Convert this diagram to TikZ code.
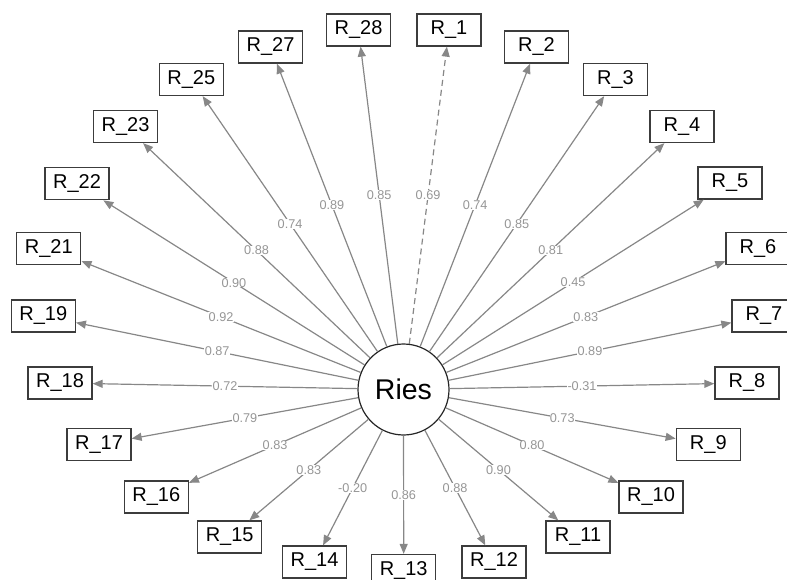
\documentclass[tikz,border=0pt]{standalone}
\usepackage{fontspec}
\setmainfont{Liberation Sans}
\usetikzlibrary{arrows.meta}
\definecolor{edgegray}{RGB}{135,135,135}
\definecolor{lblgray}{RGB}{150,150,150}
\definecolor{boxgray}{RGB}{60,60,60}
\begin{document}
\begin{tikzpicture}[x=1pt,y=-1pt,
  manifest/.style={draw=boxgray,line width=1.3pt,fill=white,minimum width=64pt,minimum height=32pt,inner sep=0pt,font=\fontsize{20}{24}\selectfont},
  latent/.style={circle,draw=black!85,line width=1.2pt,fill=white,minimum size=91pt,inner sep=0pt,font=\fontsize{28.5}{32}\selectfont},
  load/.style={draw=edgegray,line width=1.2pt,-{Triangle[length=10pt,width=8pt]}},
  lbl/.style={fill=white,inner sep=0.3pt,text=lblgray,font=\fontsize{12.7}{14}\selectfont}
]
\useasboundingbox (0,0) rectangle (787,580);
\node[latent] (ries) at (403.5,389.5) {Ries};
\node[manifest] (r1) at (449,30) {R\_1};
\node[manifest] (r2) at (536.5,47) {R\_2};
\node[manifest] (r3) at (615.5,79.5) {R\_3};
\node[manifest] (r4) at (682,126.5) {R\_4};
\node[manifest] (r5) at (730,183) {R\_5};
\node[manifest] (r6) at (758,248.3) {R\_6};
\node[manifest] (r7) at (764,316) {R\_7};
\node[manifest] (r8) at (747,383) {R\_8};
\node[manifest] (r9) at (708.3,444.5) {R\_9};
\node[manifest] (r10) at (651,497) {R\_10};
\node[manifest] (r11) at (578,537) {R\_11};
\node[manifest] (r12) at (494,562) {R\_12};
\node[manifest] (r13) at (403.7,570.5) {R\_13};
\node[manifest] (r14) at (314.5,562) {R\_14};
\node[manifest] (r15) at (229.7,537) {R\_15};
\node[manifest] (r16) at (156.3,497) {R\_16};
\node[manifest] (r17) at (99,444.5) {R\_17};
\node[manifest] (r18) at (60,383) {R\_18};
\node[manifest] (r19) at (43.3,316) {R\_19};
\node[manifest] (r21) at (48.8,248.3) {R\_21};
\node[manifest] (r22) at (77,183.7) {R\_22};
\node[manifest] (r23) at (125.5,126.5) {R\_23};
\node[manifest] (r25) at (191.3,79.5) {R\_25};
\node[manifest] (r27) at (270.5,47) {R\_27};
\node[manifest] (r28) at (358.5,30) {R\_28};
\draw[load,dash pattern=on 6pt off 4pt] (ries) -- node[lbl]{0.69} (r1);
\draw[load] (ries) -- node[lbl]{0.74} (r2);
\draw[load] (ries) -- node[lbl]{0.85} (r3);
\draw[load] (ries) -- node[lbl]{0.81} (r4);
\draw[load] (ries) -- node[lbl]{0.45} (r5);
\draw[load] (ries) -- node[lbl]{0.83} (r6);
\draw[load] (ries) -- node[lbl]{0.89} (r7);
\draw[load] (ries) -- node[lbl]{-0.31} (r8);
\draw[load] (ries) -- node[lbl]{0.73} (r9);
\draw[load] (ries) -- node[lbl]{0.80} (r10);
\draw[load] (ries) -- node[lbl]{0.90} (r11);
\draw[load] (ries) -- node[lbl]{0.88} (r12);
\draw[load] (ries) -- node[lbl]{0.86} (r13);
\draw[load] (ries) -- node[lbl]{-0.20} (r14);
\draw[load] (ries) -- node[lbl]{0.83} (r15);
\draw[load] (ries) -- node[lbl]{0.83} (r16);
\draw[load] (ries) -- node[lbl]{0.79} (r17);
\draw[load] (ries) -- node[lbl]{0.72} (r18);
\draw[load] (ries) -- node[lbl]{0.87} (r19);
\draw[load] (ries) -- node[lbl]{0.92} (r21);
\draw[load] (ries) -- node[lbl]{0.90} (r22);
\draw[load] (ries) -- node[lbl]{0.88} (r23);
\draw[load] (ries) -- node[lbl]{0.74} (r25);
\draw[load] (ries) -- node[lbl]{0.89} (r27);
\draw[load] (ries) -- node[lbl]{0.85} (r28);
\end{tikzpicture}
\end{document}
